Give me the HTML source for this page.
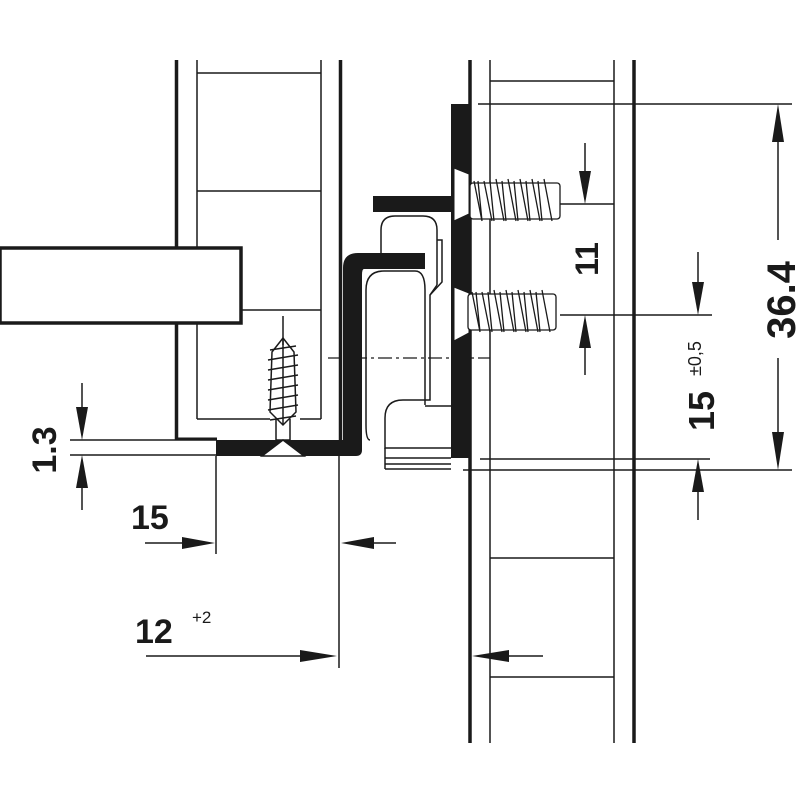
<!DOCTYPE html>
<html><head><meta charset="utf-8"><style>html,body{margin:0;padding:0;background:#fff}svg{display:block}</style></head><body>
<svg width="800" height="800" viewBox="0 0 800 800" xmlns="http://www.w3.org/2000/svg">
<g stroke="#1a1a1a" fill="none">
<line x1="176.5" y1="60" x2="176.5" y2="440" stroke-width="3.5"/>
<line x1="340.5" y1="60" x2="340.5" y2="442" stroke-width="3.5"/>
<line x1="197" y1="60" x2="197" y2="419" stroke-width="1.5"/>
<line x1="321" y1="60" x2="321" y2="419" stroke-width="1.5"/>
<line x1="197" y1="73" x2="321" y2="73" stroke-width="1.5"/>
<line x1="197" y1="191" x2="321" y2="191" stroke-width="1.5"/>
<line x1="197" y1="310" x2="321" y2="310" stroke-width="1.5"/>
<line x1="197" y1="419" x2="270" y2="419" stroke-width="1.5"/>
<line x1="300" y1="419" x2="321" y2="419" stroke-width="1.5"/>
<line x1="176" y1="439" x2="217" y2="439" stroke-width="3"/>
<rect x="0" y="248" width="241" height="75" fill="#fff" stroke-width="3.5"/>
<line x1="470" y1="60" x2="470" y2="743" stroke-width="3.5"/>
<line x1="634" y1="60" x2="634" y2="743" stroke-width="3.5"/>
<line x1="490" y1="60" x2="490" y2="743" stroke-width="1.5"/>
<line x1="614" y1="60" x2="614" y2="743" stroke-width="1.5"/>
<line x1="490" y1="81" x2="614" y2="81" stroke-width="1.5"/>
<line x1="490" y1="558" x2="614" y2="558" stroke-width="1.5"/>
<line x1="490" y1="677" x2="614" y2="677" stroke-width="1.5"/>
</g>
<path d="M216,440 L343,440 L343,268 Q343,253 358,253 L425,253 L425,269 L364,269 Q362,269 362,275 L362,450 Q362,456 356,456 L216,456 Z" fill="#1a1a1a"/>
<rect x="373" y="196" width="79" height="16" fill="#1a1a1a"/>
<rect x="451" y="104" width="18" height="354" fill="#1a1a1a"/>
<path d="M454,168 L469,174 L469,214 L454,221 Z" fill="#fff" stroke="#1a1a1a" stroke-width="1"/>
<path d="M454,287 L469,293 L469,333 L454,341 Z" fill="#fff" stroke="#1a1a1a" stroke-width="1"/>
<g stroke="#1a1a1a" fill="none" stroke-width="1.5">
<path d="M381,253 L381,230 Q381,216 395,216 L423,216 Q437,216 437,230 L437,285"/>
<path d="M437,285 L430,295 L430,400 L403,400 Q385,400 385,418 L385,448 L451,448"/>
<path d="M370,440 Q366,440 366,425 L366,290 Q366,271 384,271 L415,271 Q425,271 425,290 L425,405"/>
<path d="M437,240 L442,240 L442,282 L430,295"/>
<line x1="425" y1="406" x2="451" y2="406"/>
<line x1="385" y1="448" x2="385" y2="469"/>
<line x1="385" y1="458" x2="451" y2="458"/>
<line x1="385" y1="464" x2="451" y2="464"/>
<line x1="385" y1="469" x2="451" y2="469"/>
</g>
<line x1="328" y1="358" x2="490" y2="358" stroke="#1a1a1a" stroke-width="1.2" stroke-dasharray="14,4,3,4"/>
<g stroke="#1a1a1a" stroke-width="1.3" fill="#fff">
<rect x="470" y="183" width="90" height="36" rx="3"/>
<rect x="468" y="294" width="88" height="36" rx="3"/>
</g>
<g stroke="#1a1a1a" stroke-width="1.3">
<path d="M474,181 l8,40 M484,181 l8,40 M496,179 l8,42 M508,179 l8,42 M520,179 l8,42 M532,179 l8,42 M544,179 l8,42 M478,181 l4,40 M490,181 l4,40 M502,181 l4,40 M514,181 l4,40 M526,181 l4,40 M538,181 l4,40"/>
<path d="M472,292 l8,40 M482,292 l8,40 M494,290 l8,42 M506,290 l8,42 M518,290 l8,42 M530,290 l8,42 M542,290 l8,42 M476,292 l4,40 M488,292 l4,40 M500,292 l4,40 M512,292 l4,40 M524,292 l4,40 M536,292 l4,40"/>
</g>
<g stroke="#1a1a1a" stroke-width="1.5" fill="#fff">
<line x1="283" y1="316" x2="283" y2="345"/>
<path d="M276,419 L276,440 L290,440 L290,419"/>
<path d="M262,456 L283,440 L304,456 Z"/>
<path d="M270,350 l26,-4 M268,360 l30,-5 M268,370 l30,-5 M268,380 l30,-5 M268,390 l30,-5 M268,400 l30,-5 M268,410 l30,-5 M270,420 l26,-4"/>
<path d="M272,352 L283,338 L294,352 L296,412 L283,425 L270,412 Z" fill="none"/>
<line x1="283" y1="338" x2="283" y2="425"/>
</g>
<g stroke="#1a1a1a" stroke-width="1.5" fill="none">
<line x1="478" y1="104" x2="792" y2="104"/>
<line x1="463" y1="470" x2="792" y2="470"/>
<line x1="480" y1="459" x2="710" y2="459"/>
<line x1="560" y1="204" x2="614" y2="204"/>
<line x1="560" y1="315" x2="712" y2="315"/>
<line x1="778" y1="140" x2="778" y2="240"/>
<line x1="778" y1="358" x2="778" y2="434"/>
<line x1="70" y1="440" x2="217" y2="440"/>
<line x1="70" y1="455" x2="217" y2="455"/>
<line x1="216" y1="456" x2="216" y2="554"/>
<line x1="339" y1="456" x2="339" y2="668"/>
<line x1="145" y1="543" x2="190" y2="543"/>
<line x1="370" y1="543" x2="396" y2="543"/>
<line x1="146" y1="656" x2="305" y2="656"/>
<line x1="505" y1="656" x2="543" y2="656"/>
<line x1="585" y1="143" x2="585" y2="175"/>
<line x1="585" y1="345" x2="585" y2="375"/>
<line x1="698" y1="252" x2="698" y2="285"/>
<line x1="698" y1="490" x2="698" y2="520"/>
<line x1="82" y1="383" x2="82" y2="410"/>
<line x1="82" y1="485" x2="82" y2="510"/>
</g>
<g fill="#1a1a1a">
<path d="M778,104 L772,142 L784,142 Z"/>
<path d="M778,470 L772,432 L784,432 Z"/>
<path d="M585,204 L579,171 L591,171 Z"/>
<path d="M585,315 L579,348 L591,348 Z"/>
<path d="M698,315 L692,282 L704,282 Z"/>
<path d="M698,459 L692,492 L704,492 Z"/>
<path d="M82,440 L76,407 L88,407 Z"/>
<path d="M82,455 L76,488 L88,488 Z"/>
<path d="M215,543 L182,537 L182,549 Z"/>
<path d="M341,543 L374,537 L374,549 Z"/>
<path d="M337,656 L300,650 L300,662 Z"/>
<path d="M472,656 L509,650 L509,662 Z"/>
</g>
<g font-family="Liberation Sans, sans-serif" font-weight="bold" fill="#1a1a1a">
<text transform="translate(795,300) rotate(-90)" font-size="40" text-anchor="middle">36.4</text>
<text transform="translate(598,259) rotate(-90)" font-size="32" text-anchor="middle">11</text>
<text transform="translate(714,431) rotate(-90)" font-size="36">15</text>
<text transform="translate(701,376) rotate(-90)" font-size="18" font-weight="normal">±0,5</text>
<text transform="translate(56,450) rotate(-90)" font-size="34" text-anchor="middle">1.3</text>
<text x="131" y="529" font-size="34">15</text>
<text x="135" y="643" font-size="34">12</text>
<text x="192" y="623" font-size="17" font-weight="normal">+2</text>
</g>
</svg>
</body></html>
